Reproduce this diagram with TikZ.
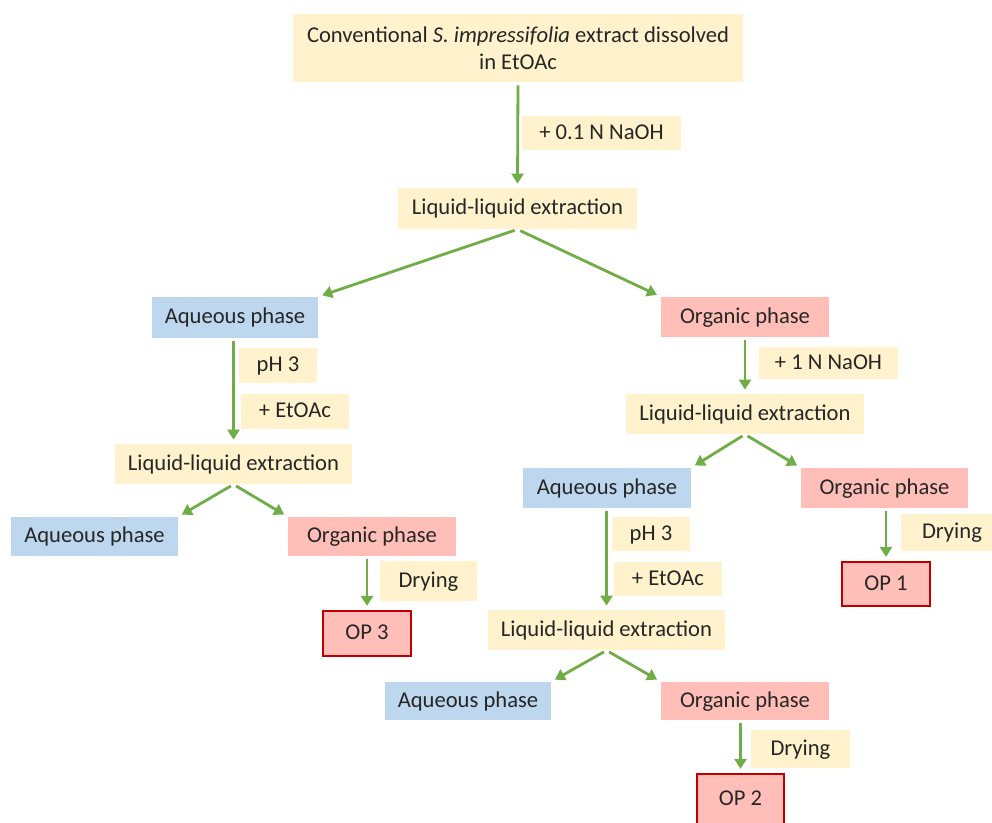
\documentclass[tikz,border=0pt]{standalone}
\usepackage{fontspec}
\setmainfont{Carlito}
\usetikzlibrary{arrows.meta}

\definecolor{stepyellow}{HTML}{FFF2CC}
\definecolor{aqblue}{HTML}{BDD7EE}
\definecolor{orgpink}{HTML}{FFBFB8}
\definecolor{flowgreen}{HTML}{70AD47}
\definecolor{opred}{HTML}{C00000}
\definecolor{txtgray}{HTML}{262626}

\tikzset{
  box/.style={inner sep=0pt, text=txtgray, font=\fontsize{11.3}{13.5}\selectfont, align=center,
    text height=8pt, text depth=1.5pt},
  stepbox/.style={box, fill=stepyellow},
  aqbox/.style={box, fill=aqblue},
  orgbox/.style={box, fill=orgpink},
  opbox/.style={box, fill=orgpink, draw=opred, line width=1.1pt},
  flow/.style={draw=flowgreen, line width=1.4pt, -{Triangle[length=5pt,width=6pt]},
    shorten <=1.5pt, shorten >=2pt}
}

\begin{document}
\begin{tikzpicture}[x=0.5pt, y=-0.5pt]
    % Frame of the picture
    \path[use as bounding box] (0,0) rectangle (992,823);
    \clip (0,0) rectangle (992,823);

    % Start
    \node[stepbox, text height={}, text depth={}, minimum width=225pt, minimum height=34pt] (extract) at (518,48)
        {Conventional \textit{S. impressifolia} extract dissolved\\in EtOAc};
    \node[stepbox, minimum width=79.5pt, minimum height=17pt] (naohA) at (601.5,133) {+ 0.1 N NaOH};
    \node[stepbox, minimum width=119.5pt, minimum height=20.5pt] (lleA) at (517.5,208.5) {Liquid-liquid extraction};

    % First split
    \node[aqbox, minimum width=83pt, minimum height=20.5pt] (aqA) at (235,317.5) {Aqueous phase};
    \node[orgbox, minimum width=84pt, minimum height=20pt] (orgA) at (745,317) {Organic phase};

    % Left branch (aqueous phase)
    \node[stepbox, minimum width=39pt, minimum height=17.5pt] (phA) at (278,365.5) {pH 3};
    \node[stepbox, minimum width=54pt, minimum height=17.5pt] (etoacA) at (295,411.5) {+ EtOAc};
    \node[stepbox, minimum width=118.5pt, minimum height=20pt] (lleB) at (233.5,464) {Liquid-liquid extraction};
    \node[aqbox, minimum width=83.5pt, minimum height=19.5pt] (aqB) at (94.5,536.5) {Aqueous phase};
    \node[orgbox, minimum width=84pt, minimum height=19.5pt] (orgB) at (372,536.5) {Organic phase};
    \node[stepbox, minimum width=48.5pt, minimum height=20pt] (dryA) at (428.5,581) {Drying};
    \node[opbox, minimum width=44pt, minimum height=22.5pt] (opThree) at (367,633.5) {OP 3};

    % Right branch (organic phase)
    \node[stepbox, minimum width=69.5pt, minimum height=16pt] (naohB) at (828.5,363) {+ 1 N NaOH};
    \node[stepbox, minimum width=119pt, minimum height=20pt] (lleC) at (745,414) {Liquid-liquid extraction};
    \node[aqbox, minimum width=84pt, minimum height=20pt] (aqC) at (607,488) {Aqueous phase};
    \node[orgbox, minimum width=83.5pt, minimum height=20pt] (orgC) at (884.5,488) {Organic phase};
    \node[stepbox, minimum width=51pt, minimum height=18.5pt] (dryB) at (952,532.5) {Drying};
    \node[opbox, minimum width=44pt, minimum height=22pt] (opOne) at (886,584) {OP 1};

    % Aqueous phase of the right branch
    \node[stepbox, minimum width=39pt, minimum height=17pt] (phB) at (651,534) {pH 3};
    \node[stepbox, minimum width=54pt, minimum height=17pt] (etoacB) at (668,579) {+ EtOAc};
    \node[stepbox, minimum width=118.5pt, minimum height=20pt] (lleD) at (606.5,630) {Liquid-liquid extraction};
    \node[aqbox, minimum width=83pt, minimum height=19pt] (aqD) at (468,701) {Aqueous phase};
    \node[orgbox, minimum width=84pt, minimum height=19pt] (orgD) at (745,701) {Organic phase};
    \node[stepbox, minimum width=49.5pt, minimum height=19pt] (dryC) at (800.5,749) {Drying};
    \node[opbox, minimum width=43.5pt, minimum height=25pt] (opTwo) at (740.5,799) {OP 2};

    % Connectors
    \draw[flow] (extract.south) -- (lleA.north);
    \draw[flow] (lleA.south) -- (aqA.north east);
    \draw[flow] (lleA.south) -- (orgA.north west);

    \draw[flow] (aqA.south -| lleB.north) -- (lleB.north);
    \draw[flow] (lleB.south) -- (aqB.north east);
    \draw[flow] (lleB.south) -- (orgB.north west);
    \draw[flow] (orgB.south -| opThree.north) -- (opThree.north);

    \draw[flow] (orgA.south) -- (lleC.north);
    \draw[flow] (lleC.south) -- (aqC.north east);
    \draw[flow] (lleC.south) -- (orgC.north west);
    \draw[flow] (orgC.south -| opOne.north) -- (opOne.north);

    \draw[flow] (aqC.south -| lleD.north) -- (lleD.north);
    \draw[flow] (lleD.south) -- (aqD.north east);
    \draw[flow] (lleD.south) -- (orgD.north west);
    \draw[flow] (orgD.south -| opTwo.north) -- (opTwo.north);
\end{tikzpicture}
\end{document}
